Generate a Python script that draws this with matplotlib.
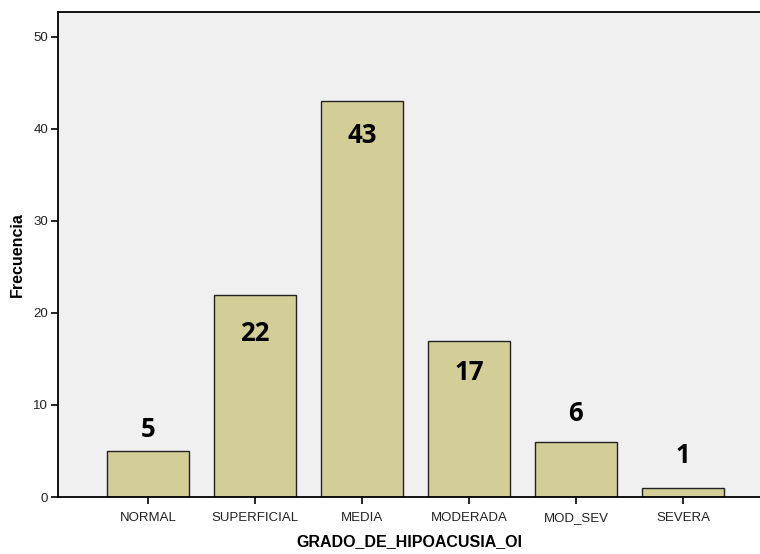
import matplotlib.pyplot as plt

# Datos del grafico
categorias = ['NORMAL', 'SUPERFICIAL', 'MEDIA', 'MODERADA', 'MOD_SEV', 'SEVERA']
frecuencias = [5, 22, 43, 17, 6, 1]
# desplazamiento vertical de cada etiqueta respecto a la barra (en unidades del eje)
desplazamientos = [2.3, -4.2, -3.7, -3.5, 3.1, 3.5]
ticks_y = [0, 10, 20, 30, 40, 50]

fig = plt.figure(figsize=(7.6, 5.54), dpi=100)
ax = fig.add_axes([58 / 760, 57 / 554, 702 / 760, 485 / 554])
ax.set_facecolor('#f0f0f0')

pos = list(range(len(categorias)))
ax.bar(pos, frecuencias, width=0.76, color='#d3ce97', edgecolor='#222222', linewidth=1.0, zorder=2)

# Etiquetas de valores
for x, v, d in zip(pos, frecuencias, desplazamientos):
    ax.text(x, v + d, str(v), ha='center', va='center', fontsize=18.5,
            fontweight='bold', family='Open Sans', color='black', zorder=3)

ax.set_xlim(-0.84, 5.72)
ax.set_ylim(0, 52.7)
ax.set_xticks(pos)
ax.set_xticklabels(categorias, family='Liberation Sans', fontsize=9.5, color='#222222')
ax.set_yticks(ticks_y)
ax.set_yticklabels([str(t) for t in ticks_y], family='Liberation Sans', fontsize=9.5, color='#222222')
ax.tick_params(axis='both', direction='out', length=5, width=1.2, color='black', pad=2)
ax.tick_params(axis='x', pad=6)

ax.spines['right'].set_visible(False)
for s in ['left', 'top', 'bottom']:
    ax.spines[s].set_linewidth(1.3)
    ax.spines[s].set_color('black')

ax.set_xlabel('GRADO_DE_HIPOACUSIA_OI', family='Liberation Sans', fontsize=11.5,
              fontweight='bold', labelpad=7)
ax.set_ylabel('Frecuencia', family='Liberation Sans', fontsize=11.5,
              fontweight='bold', labelpad=6)

fig.savefig('out.png', dpi=100)
